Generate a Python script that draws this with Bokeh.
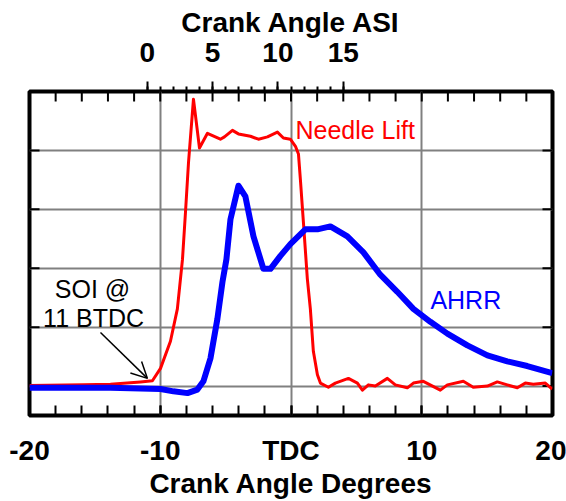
from bokeh.plotting import figure
from bokeh.models import (Range1d, LinearAxis, FixedTicker, Grid, Label, Arrow, OpenHead)
from bokeh.embed import file_html
from bokeh.resources import INLINE

# Needle lift trace (crank angle degrees, lift in grid units)
needle_x = [-20.0, -15.87, -13.81, -11.51, -10.60, -9.98, -9.22, -8.69, -8.30, -8.07,
            -7.84, -7.46, -7.00, -6.39, -5.40, -5.09, -4.48, -4.02, -3.10, -2.49,
            -1.80, -1.04, -0.58, -0.05, 0.34, 0.57, 0.72, 0.95, 1.25, 1.48,
            1.71, 2.02, 2.25, 2.86, 3.39, 4.39, 5.08, 5.46, 5.92, 6.45,
            7.37, 7.98, 8.90, 9.36, 10.12, 11.42, 11.96, 13.18, 13.94, 15.02,
            15.78, 16.54, 17.31, 17.92, 18.53, 19.45, 19.98]
needle_y = [0.01, 0.02, 0.03, 0.07, 0.09, 0.30, 0.76, 1.31, 2.15, 2.95,
            3.79, 4.87, 4.04, 4.29, 4.19, 4.23, 4.34, 4.28, 4.24, 4.19,
            4.23, 4.31, 4.21, 4.19, 4.07, 3.94, 3.50, 2.78, 1.82, 1.31,
            0.59, 0.19, 0.05, -0.02, 0.05, 0.13, 0.05, -0.07, 0.02, 0.00,
            0.13, 0.02, -0.03, 0.05, 0.08, -0.07, 0.02, 0.08, -0.02, 0.00,
            0.07, 0.02, -0.03, 0.05, 0.03, 0.05, -0.05]

# Apparent heat release rate trace
ahrr_x = [-20.0, -13.81, -9.98, -8.99, -7.92, -7.16, -6.70, -6.16, -5.63, -5.24,
          -4.94, -4.63, -4.02, -3.49, -2.87, -2.11, -1.57, -0.81, -0.05, 1.10,
          2.02, 3.01, 4.31, 5.54, 6.83, 8.13, 9.36, 10.66, 11.96, 13.49,
          15.02, 16.54, 18.07, 19.98]
ahrr_y = [-0.03, -0.03, -0.05, -0.09, -0.12, -0.06, 0.08, 0.47, 1.14, 1.77,
          2.15, 2.83, 3.40, 3.22, 2.54, 1.99, 1.99, 2.21, 2.41, 2.66,
          2.66, 2.71, 2.54, 2.27, 1.89, 1.60, 1.31, 1.09, 0.89, 0.69,
          0.52, 0.42, 0.34, 0.22]

bottom_ticks = [-20, -10, 0, 10, 20]
bottom_labels = {-20: "-20", -10: "-10", 0: "TDC", 10: "10", 20: "20"}
bottom_minor = list(range(-20, 21, 2))
top_inner_ticks = list(range(-18, 19, 2))
asi_ticks = [0, 5, 10, 15]
asi_minor = list(range(0, 16))
asi_offset = 11  # start of injection, degrees BTDC
y_ticks = [0, 1, 2, 3, 4]
x_lo, x_hi = -20, 20
y_lo, y_hi = -0.5, 5

FONT = "Liberation Sans"
W, H = 566, 501
BORDER_L, BORDER_R, BORDER_T, BORDER_B = 29, 14, 91, 84

p = figure(width=W, height=H, x_range=Range1d(x_lo, x_hi), y_range=Range1d(y_lo, y_hi),
           x_axis_type=None, y_axis_type=None,
           output_backend="svg", toolbar_location=None,
           min_border_left=BORDER_L, min_border_right=BORDER_R,
           min_border_top=BORDER_T, min_border_bottom=BORDER_B)
p.outline_line_color = "black"
p.outline_line_width = 4
p.background_fill_color = "white"
p.border_fill_color = "white"

def tick_style(ax):
    ax.axis_line_color = None
    ax.major_tick_line_color = "black"
    ax.minor_tick_line_color = "black"
    ax.major_tick_line_width = 2
    ax.minor_tick_line_width = 2
    ax.major_label_text_font = FONT
    ax.major_label_text_font_style = "bold"
    ax.major_label_text_color = "black"
    ax.axis_label_text_font = FONT
    ax.axis_label_text_font_style = "bold"
    ax.axis_label_text_color = "black"
    ax.major_label_text_font_size = "28px"
    ax.axis_label_text_font_size = "28px"

# bottom crank angle axis
bottom = LinearAxis(ticker=FixedTicker(ticks=bottom_ticks, minor_ticks=bottom_minor),
                    axis_label="Crank Angle Degrees", major_label_overrides=bottom_labels)
tick_style(bottom)
bottom.major_tick_in = 10
bottom.major_tick_out = 0
bottom.minor_tick_in = 10
bottom.minor_tick_out = 0
bottom.major_label_standoff = 19
bottom.axis_label_standoff = -1
p.add_layout(bottom, "below")

# crank angle after start of injection (top axis)
p.extra_x_ranges = {"asi": Range1d(x_lo + asi_offset, x_hi + asi_offset)}
asi = LinearAxis(x_range_name="asi", ticker=FixedTicker(ticks=asi_ticks, minor_ticks=asi_minor),
                 axis_label="Crank Angle ASI")
tick_style(asi)
asi.major_tick_in = 0
asi.major_tick_out = 10
asi.minor_tick_in = 0
asi.minor_tick_out = 5
asi.major_label_standoff = 20
asi.axis_label_standoff = 2
p.add_layout(asi, "above")

p.add_layout(Grid(dimension=0, ticker=FixedTicker(ticks=[-10, 0, 10]),
                  grid_line_color="#808080", grid_line_width=2))
p.add_layout(Grid(dimension=1, ticker=FixedTicker(ticks=y_ticks),
                  grid_line_color="#808080", grid_line_width=2))

# short tick marks on the inside of the top, left and right frame edges (10 px long)
TICK_PX = 10
frame_w = W - BORDER_L - BORDER_R
frame_h = H - BORDER_T - BORDER_B
dx = TICK_PX * (x_hi - x_lo) / frame_w
dy = TICK_PX * (y_hi - y_lo) / frame_h
nt, ny = len(top_inner_ticks), len(y_ticks)
p.segment(x0=top_inner_ticks, y0=[y_hi] * nt, x1=top_inner_ticks, y1=[y_hi - dy] * nt,
          line_color="black", line_width=2)
p.segment(x0=[x_lo] * ny, y0=y_ticks, x1=[x_lo + dx] * ny, y1=y_ticks,
          line_color="black", line_width=2)
p.segment(x0=[x_hi] * ny, y0=y_ticks, x1=[x_hi - dx] * ny, y1=y_ticks,
          line_color="black", line_width=2)

p.line(needle_x, needle_y, line_color="#ff0000", line_width=3, line_join="round")
p.line(ahrr_x, ahrr_y, line_color="#0000ff", line_width=6, line_join="round")

p.add_layout(Label(x=0.34, y=4.34, text="Needle Lift", text_font=FONT, text_font_size="25px",
                   text_color="#ff0000", text_align="left", text_baseline="middle"))
p.add_layout(Label(x=10.66, y=1.46, text="AHRR", text_font=FONT, text_font_size="25px",
                   text_color="#0000ff", text_align="left", text_baseline="middle"))
p.add_layout(Label(x=-15.18, y=1.65, text="SOI @", text_font=FONT, text_font_size="25px",
                   text_color="black", text_align="center", text_baseline="middle"))
p.add_layout(Label(x=-15.1, y=1.16, text="11 BTDC", text_font=FONT, text_font_size="25px",
                   text_color="black", text_align="center", text_baseline="middle"))
p.add_layout(Arrow(end=OpenHead(size=16, line_width=1.5, line_color="black"),
                   x_start=-14.57, y_start=0.91, x_end=-10.98, y_end=0.13,
                   line_color="black", line_width=1.5))

open("out.html", "w").write(file_html(p, INLINE))
